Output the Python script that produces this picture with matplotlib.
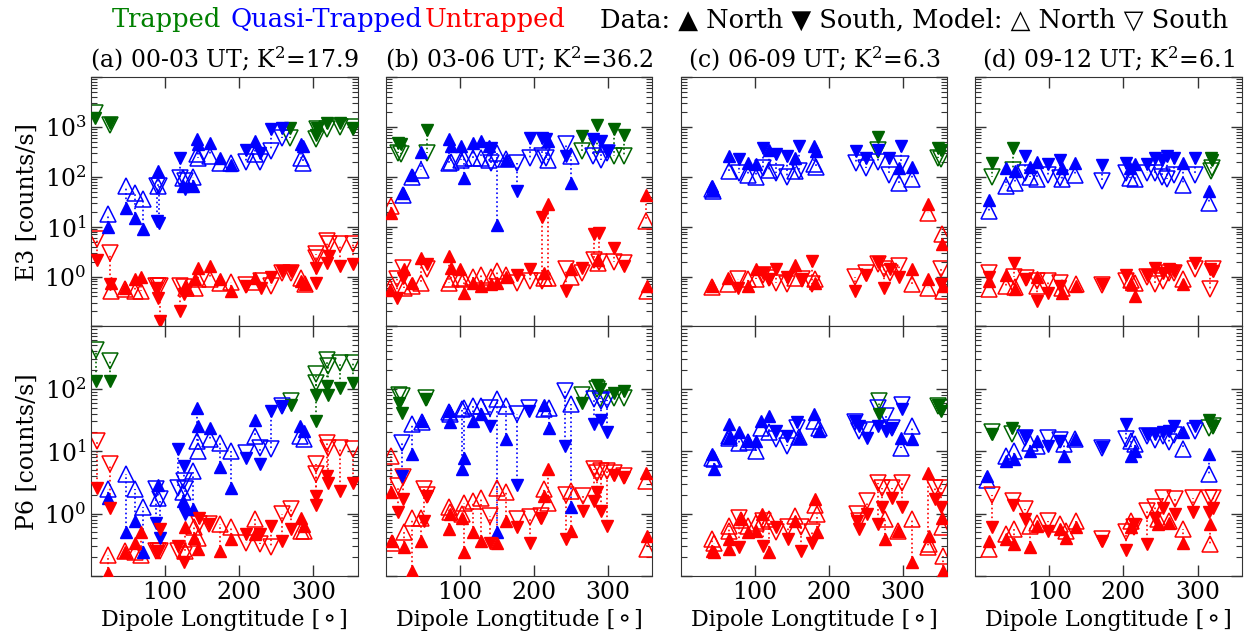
import matplotlib
matplotlib.use("Agg")
import matplotlib.pyplot as plt
from matplotlib.ticker import FixedLocator, LogLocator, NullLocator

# Each row: (dipole longitude, class+hemisphere code, measured rate, model rate)
# class: T = trapped, Q = quasi-trapped, U = untrapped; hemisphere: N / S
A_E3 = [
    (6, "TS", 1500, 1900), (26, "TS", 1200, 1100), (269, "TS", 950, 600),
    (303, "TS", 700, 560), (305, "TS", 950, 900), (318, "TS", 1200, 890),
    (336, "TS", 1200, 1000), (354, "TS", 950, 1000),
    (23, "QN", 10, 18), (47, "QN", 24, 65), (60, "QN", 15, 48), (70, "QN", 9, 36),
    (89, "QS", 13, 65), (91, "QN", 130, 65), (92, "QS", 12, 65), (120, "QS", 240, 95),
    (124, "QN", 65, 95), (127, "QS", 56, 82), (138, "QN", 65, 100), (143, "QN", 560, 280),
    (145, "QN", 450, 240), (160, "QN", 480, 260), (174, "QN", 240, 190), (189, "QN", 170, 185),
    (209, "QS", 350, 200), (221, "QN", 520, 280), (228, "QS", 300, 200), (243, "QS", 890, 330),
    (258, "QS", 950, 600), (283, "QN", 450, 240), (286, "QN", 410, 190),
    (8, "US", 2.2, 5.6), (25, "US", 0.7, 3.0), (27, "UN", 0.75, 0.52), (46, "UN", 0.6, 0.56),
    (59, "UN", 0.88, 0.52), (68, "UN", 1.0, 0.52), (88, "US", 0.6, 0.65), (90, "US", 0.38, 0.65),
    (93, "US", 0.13, 0.65), (120, "US", 0.2, 0.65), (125, "US", 0.44, 0.63), (128, "UN", 0.58, 0.6),
    (141, "UN", 0.88, 0.6), (145, "UN", 1.5, 0.88), (160, "UN", 1.6, 0.88), (174, "UN", 0.88, 0.76),
    (189, "UN", 0.52, 0.78), (209, "US", 0.65, 0.67), (221, "UN", 0.95, 0.78), (230, "US", 0.6, 0.82),
    (243, "US", 1.0, 0.65), (258, "US", 1.3, 1.2), (270, "US", 1.3, 1.2), (283, "UN", 0.82, 0.95),
    (289, "UN", 0.7, 0.7), (303, "US", 1.5, 2.8), (304, "US", 0.76, 2.4), (319, "US", 1.9, 5.2),
    (321, "US", 2.6, 4.4), (336, "US", 1.6, 4.6), (354, "US", 1.8, 4.4),
]
A_P6 = [
    (7, "TS", 133, 425), (26, "TS", 133, 280), (270, "TS", 56, 63), (303, "TS", 81, 170),
    (304, "TS", 30, 125), (318, "TS", 110, 295), (320, "TS", 81, 230), (336, "TS", 104, 260),
    (354, "TS", 125, 260),
    (23, "QN", 1.8, 2.45), (47, "QN", 0.5, 4.3), (60, "QN", 0.76, 2.45), (70, "QN", 0.24, 1.3),
    (88, "QS", 0.72, 2.45), (90, "QN", 2.9, 1.8), (93, "QS", 0.41, 1.7), (118, "QS", 10.7, 2.6),
    (125, "QS", 5.8, 3.3), (124, "QN", 1.6, 2.2), (127, "QS", 1.0, 2.45), (138, "QN", 1.17, 4.8),
    (143, "QN", 50, 14.5), (145, "QN", 25, 10), (160, "QN", 24, 15.5), (174, "QN", 5.5, 13.7),
    (189, "QN", 2.6, 10), (209, "QS", 7.9, 9.5), (221, "QN", 32, 17.5), (228, "QS", 6.2, 11.4),
    (243, "QS", 44, 10.7), (258, "QS", 53, 53), (282, "QN", 25, 17.5), (288, "QN", 21, 15.5),
    (8, "US", 2.6, 14.5), (26, "US", 1.25, 6.2), (23, "UN", 0.11, 0.22), (46, "UN", 0.24, 0.25),
    (59, "UN", 0.34, 0.24), (68, "UN", 0.5, 0.22), (88, "US", 0.25, 0.25), (91, "US", 0.25, 0.25),
    (93, "US", 0.56, 0.25), (118, "US", 0.3, 0.25), (125, "US", 0.17, 0.22), (127, "UN", 0.6, 0.25),
    (139, "UN", 0.41, 0.6), (145, "UN", 0.27, 0.41), (146, "US", 0.86, 0.67), (159, "US", 0.67, 0.67),
    (174, "UN", 0.25, 0.67), (189, "UN", 0.39, 0.6), (209, "US", 0.47, 0.34), (221, "UN", 0.47, 0.81),
    (228, "US", 0.47, 0.32), (243, "US", 0.63, 0.29), (258, "US", 0.37, 1.0), (270, "US", 0.56, 1.17),
    (283, "UN", 0.86, 0.53), (288, "UN", 0.63, 0.53), (303, "US", 1.9, 6.2), (304, "US", 1.4, 4.3),
    (318, "US", 4.0, 13.7), (320, "US", 3.1, 11.4), (336, "US", 2.3, 11.4), (354, "US", 3.1, 10.7),
]

B_E3 = [
    (16, "TS", 480, 300), (20, "TS", 450, 280), (55, "TS", 850, 300), (265, "TS", 650, 330),
    (285, "TS", 1100, 410), (308, "TS", 910, 260), (322, "TS", 700, 260),
    (23, "QN", 48, 44), (36, "QN", 110, 100), (47, "QN", 310, 140), (86, "QN", 560, 190),
    (88, "QN", 410, 200), (101, "QN", 410, 220), (105, "QN", 95, 240), (118, "QN", 480, 240),
    (129, "QN", 520, 240), (139, "QN", 410, 220), (142, "QS", 380, 190), (150, "QN", 11, 300),
    (162, "QN", 220, 230), (177, "QS", 52, 190), (195, "QS", 600, 240), (211, "QS", 600, 260),
    (216, "QS", 580, 240), (219, "QN", 520, 220), (243, "QS", 260, 450), (250, "QN", 76, 260),
    (280, "QS", 560, 260), (290, "QS", 520, 220), (299, "QS", 330, 300),
    (7, "UN", 19, 26), (6, "UN", 0.55, 0.6), (15, "US", 0.38, 0.9), (23, "US", 0.95, 1.5),
    (24, "UN", 1.4, 0.6), (36, "UN", 0.76, 0.65), (48, "UN", 2.4, 0.76), (55, "US", 1.8, 1.4),
    (86, "UN", 2.6, 0.76), (88, "UN", 1.5, 0.88), (100, "UN", 1.4, 0.95), (105, "UN", 0.48, 0.88),
    (118, "UN", 0.76, 1.0), (129, "UN", 0.65, 1.1), (142, "UN", 0.7, 1.0), (150, "UN", 0.76, 1.3),
    (162, "UN", 1.0, 1.1), (177, "US", 1.1, 0.76), (195, "US", 1.4, 0.82), (211, "US", 16, 0.82),
    (213, "UN", 1.2, 0.95), (219, "UN", 28, 0.95), (243, "US", 0.52, 1.4), (250, "UN", 1.4, 1.0),
    (265, "US", 1.5, 1.2), (281, "US", 7.0, 2.2), (288, "US", 7.6, 2.0), (286, "UN", 2.2, 1.9),
    (308, "US", 3.8, 2.0), (322, "US", 1.6, 1.9), (351, "UN", 44, 13), (352, "UN", 0.65, 0.52),
]
B_P6 = [
    (18, "TS", 60, 81), (22, "TS", 41, 78), (54, "TS", 68, 72), (265, "TS", 60, 81),
    (285, "TS", 117, 98), (289, "TS", 98, 68), (308, "TS", 87, 72), (322, "TS", 92, 72),
    (22, "QS", 4.0, 13.7), (36, "QN", 8.9, 27), (49, "QN", 30, 29), (85, "QN", 44, 42),
    (87, "QN", 29, 39), (105, "QN", 7.9, 50), (103, "QN", 5.1, 47), (118, "QN", 30, 53),
    (129, "QN", 39, 53), (141, "QS", 25, 50), (150, "QN", 0.5, 68), (162, "QN", 15.5, 53),
    (177, "QS", 2.9, 39), (193, "QS", 44, 50), (214, "QN", 56, 47), (220, "QN", 24, 50),
    (242, "QS", 12, 92), (250, "QN", 1.3, 58), (281, "QS", 27, 68), (291, "QS", 32, 63),
    (299, "QS", 20, 66),
    (7, "UN", 2.2, 8.4), (8, "UN", 0.36, 0.34), (17, "US", 1.05, 2.8), (23, "US", 1.7, 3.8),
    (24, "UN", 0.29, 0.5), (36, "UN", 0.12, 0.86), (48, "UN", 0.37, 0.86), (52, "US", 0.76, 2.45),
    (56, "US", 1.9, 2.0), (85, "UN", 0.56, 1.3), (87, "UN", 1.0, 1.05), (105, "UN", 0.24, 1.5),
    (103, "UN", 0.86, 1.0), (118, "UN", 0.5, 1.6), (129, "UN", 0.37, 1.8), (141, "US", 0.34, 0.92),
    (150, "UN", 0.34, 2.6), (162, "UN", 0.76, 2.2), (177, "US", 0.6, 0.81), (195, "US", 0.34, 0.88),
    (209, "US", 0.86, 0.9), (214, "UN", 1.9, 2.45), (219, "UN", 5.1, 1.5), (243, "US", 0.39, 2.0),
    (250, "UN", 0.53, 2.3), (266, "US", 1.1, 1.9), (281, "US", 1.6, 5.1), (285, "US", 2.2, 4.5),
    (290, "US", 1.1, 4.8), (299, "US", 0.63, 4.8), (308, "US", 4.2, 4.5), (322, "US", 3.8, 4.0),
    (351, "UN", 4.5, 3.3), (352, "UN", 0.44, 0.27),
]

C_E3 = [
    (267, "TS", 630, 350), (348, "TS", 380, 240), (352, "TS", 350, 230),
    (42, "QN", 65, 56), (44, "QN", 55, 52), (65, "QN", 260, 130), (79, "QS", 230, 120),
    (91, "QN", 190, 110), (102, "QN", 180, 100), (111, "QS", 380, 150), (119, "QN", 350, 140),
    (129, "QS", 280, 120), (144, "QS", 260, 100), (155, "QN", 240, 130), (160, "QS", 410, 130),
    (180, "QN", 410, 180), (183, "QN", 330, 160), (237, "QS", 330, 190), (250, "QS", 240, 150),
    (267, "QS", 350, 200), (281, "QS", 240, 110), (298, "QS", 410, 180), (295, "QN", 150, 76),
    (313, "QN", 160, 89),
    (42, "UN", 0.65, 0.63), (64, "UN", 0.95, 0.7), (78, "US", 0.6, 0.91), (91, "UN", 0.65, 0.88),
    (102, "UN", 1.4, 0.9), (111, "US", 1.2, 1.1), (119, "US", 0.88, 0.95), (129, "US", 1.4, 0.76),
    (144, "US", 1.0, 0.7), (155, "UN", 1.7, 0.95), (164, "US", 0.88, 0.88), (177, "US", 2.1, 0.7),
    (181, "UN", 0.76, 0.88), (236, "US", 0.52, 1.0), (250, "US", 1.1, 1.2), (266, "US", 2.0, 1.8),
    (274, "US", 0.6, 1.4), (283, "US", 1.4, 1.2), (295, "US", 1.0, 1.6), (313, "UN", 1.4, 0.7),
    (334, "UN", 0.88, 0.6), (334, "UN", 28, 19), (353, "UN", 4.4, 7.0), (351, "US", 0.7, 1.4),
    (354, "UN", 0.65, 0.52),
]
C_P6 = [
    (268, "TS", 39, 63), (347, "TS", 56, 53), (351, "TS", 44, 50),
    (42, "QN", 8.9, 7.9), (45, "QN", 5.1, 7.5), (65, "QN", 27, 17.5), (66, "QN", 16.5, 16.5),
    (79, "QN", 20, 13.7), (91, "QN", 14.5, 14), (102, "QN", 14.5, 10), (109, "QN", 30, 24),
    (119, "QN", 37, 20), (129, "QS", 21, 15.5), (144, "QS", 17.5, 12), (157, "QS", 29, 24),
    (160, "QN", 16.5, 17), (180, "QN", 39, 30), (187, "QN", 21, 24), (236, "QS", 30, 29),
    (241, "QS", 25, 21), (252, "QS", 16.5, 22), (266, "QS", 25, 50), (277, "QS", 21, 37),
    (285, "QS", 24, 24), (299, "QS", 47, 56), (297, "QN", 16.5, 11.4), (313, "QN", 15.5, 25),
    (42, "UN", 0.25, 0.39), (45, "UN", 0.24, 0.34), (65, "UN", 0.27, 0.63), (66, "UN", 0.39, 0.53),
    (79, "US", 0.29, 0.86), (81, "UN", 0.81, 0.78), (91, "UN", 0.5, 0.63), (102, "UN", 0.53, 0.72),
    (111, "US", 0.3, 0.76), (110, "UN", 1.0, 0.76), (119, "UN", 0.24, 0.81), (129, "US", 0.6, 0.5),
    (145, "US", 0.39, 0.6), (155, "UN", 0.76, 0.92), (162, "US", 0.25, 0.6), (178, "US", 0.34, 0.5),
    (181, "UN", 1.7, 1.4), (184, "UN", 0.5, 1.0), (238, "US", 0.76, 1.0), (241, "US", 0.56, 0.76),
    (252, "US", 1.0, 1.6), (266, "US", 0.67, 3.1), (272, "US", 1.3, 2.6), (276, "UN", 0.39, 0.81),
    (285, "US", 1.8, 2.6), (294, "UN", 0.53, 0.53), (299, "US", 1.3, 3.1), (313, "UN", 0.17, 0.81),
    (334, "UN", 4.5, 0.29), (336, "UN", 0.44, 0.33), (344, "US", 1.7, 2.6), (351, "US", 1.3, 2.6),
    (353, "UN", 0.86, 0.6), (354, "UN", 0.12, 0.21),
]

D_E3 = [
    (23, "TS", 190, 100), (51, "TS", 380, 140), (318, "TS", 240, 130), (320, "TS", 220, 150),
    (18, "QN", 35, 21), (41, "QN", 150, 65), (53, "QN", 130, 76), (67, "QS", 260, 120),
    (74, "QN", 160, 100), (84, "QN", 200, 89), (98, "QS", 180, 110), (114, "QS", 220, 95),
    (117, "QN", 150, 89), (135, "QN", 190, 110), (171, "QS", 170, 82), (203, "QS", 190, 120),
    (209, "QN", 150, 95), (216, "QN", 180, 89), (232, "QS", 180, 120), (243, "QS", 240, 120),
    (252, "QS", 220, 100), (259, "QS", 260, 89), (268, "QS", 240, 110), (280, "QN", 190, 70),
    (296, "QS", 240, 110), (316, "QN", 52, 30),
    (19, "US", 1.0, 1.2), (18, "UN", 0.8, 0.56), (41, "UN", 1.1, 0.65), (52, "US", 1.9, 1.0),
    (53, "UN", 0.56, 0.62), (68, "US", 0.88, 0.95), (84, "UN", 1.0, 0.65), (83, "US", 0.33, 0.8),
    (98, "US", 0.48, 0.82), (115, "US", 0.65, 0.76), (117, "UN", 0.48, 0.6), (136, "UN", 0.65, 0.7),
    (171, "US", 0.7, 0.68), (203, "US", 1.1, 0.82), (210, "UN", 0.7, 0.85), (216, "UN", 0.41, 0.76),
    (232, "US", 1.1, 1.0), (243, "US", 1.5, 0.7), (253, "US", 1.2, 0.8), (261, "US", 1.4, 1.2),
    (268, "US", 1.3, 1.2), (280, "UN", 0.7, 0.9), (296, "US", 1.9, 1.4), (317, "US", 1.4, 0.56),
    (321, "US", 1.3, 1.4),
]
D_P6 = [
    (23, "TS", 18.6, 20.5), (50, "TS", 24, 19), (316, "TS", 32, 24), (321, "TS", 25, 25),
    (16, "QN", 4.0, 3.5), (41, "QN", 7.0, 8.4), (52, "QN", 7.4, 10), (67, "QS", 17.5, 16.5),
    (74, "QN", 10, 13.7), (84, "QN", 14.5, 12), (98, "QS", 12, 16.5), (114, "QS", 14.5, 15),
    (120, "QN", 8.4, 13), (134, "QN", 15.5, 15.5), (171, "QS", 11.7, 11.4), (203, "QS", 27, 15.5),
    (210, "QN", 8.4, 14.5), (216, "QN", 10, 12.9), (232, "QS", 18.6, 17.5), (243, "QS", 18.6, 15),
    (253, "QS", 20, 17.5), (261, "QS", 21, 14), (268, "QS", 25, 18), (280, "QN", 20, 10.7),
    (296, "QS", 25, 21), (316, "QN", 8.9, 4.3),
    (23, "US", 0.6, 2.0), (18, "UN", 0.37, 0.27), (41, "UN", 0.39, 0.48), (52, "UN", 0.32, 0.56),
    (51, "US", 1.4, 1.6), (67, "US", 0.81, 1.17), (74, "UN", 0.29, 0.63), (84, "UN", 0.63, 0.7),
    (98, "US", 0.53, 0.76), (115, "UN", 0.56, 0.67), (122, "UN", 0.41, 0.53), (136, "UN", 0.6, 0.76),
    (171, "US", 0.37, 0.39), (204, "US", 0.26, 0.5), (210, "UN", 0.6, 0.76), (214, "US", 0.67, 0.6),
    (232, "US", 0.32, 1.1), (243, "US", 0.86, 1.3), (246, "UN", 0.67, 0.81), (253, "US", 1.25, 1.8),
    (261, "UN", 0.72, 0.75), (269, "US", 1.0, 1.7), (280, "UN", 0.34, 0.56), (294, "US", 1.05, 1.8),
    (316, "US", 1.05, 1.8), (321, "US", 1.25, 1.8), (317, "UN", 0.67, 0.32),
]

PANEL_TITLES = [
    "(a) 00-03 UT; K$^2$=17.9",
    "(b) 03-06 UT; K$^2$=36.2",
    "(c) 06-09 UT; K$^2$=6.3",
    "(d) 09-12 UT; K$^2$=6.1",
]
E3_PANELS = [A_E3, B_E3, C_E3, D_E3]
P6_PANELS = [A_P6, B_P6, C_P6, D_P6]

ROW_LABELS = ["E3 [counts/s]", "P6 [counts/s]"]
E3_TICKS = [0.1, 1, 10, 100, 1000, 1e4]
E3_TICK_LABELS = ["", "$10^0$", "$10^1$", "$10^2$", "$10^3$", ""]
P6_TICKS = [0.1, 1, 10, 100, 1000]
P6_TICK_LABELS = ["", "$10^0$", "$10^1$", "$10^2$", ""]
LON_TICKS = [100, 200, 300]
LON_LABEL = "Dipole Longtitude [\u26AC]"

CLASS_COLOR = {"T": "#006400", "Q": "#0000ff", "U": "#ff0000"}
HEMI_MARKER = {"N": "^", "S": "v"}


def draw_panel(ax, rows):
    for lon, code, obs, mod in rows:
        color = CLASS_COLOR[code[0]]
        marker = HEMI_MARKER[code[1]]
        ax.plot([lon, lon], [obs, mod], ls=":", color=color, lw=1.2, zorder=1)
        ax.plot(lon, obs, marker, color=color, mec=color, ms=8, zorder=3)
        ax.plot(lon, mod, marker, mfc="none", mec=color, ms=11.5, mew=1.1, zorder=2)


def main():
    plt.rcParams["font.family"] = ["DejaVu Serif", "DejaVu Sans"]
    plt.rcParams["mathtext.fontset"] = "dejavuserif"

    fig, axes = plt.subplots(2, 4, figsize=(12.5, 6.39), dpi=100)
    fig.subplots_adjust(left=0.0728, right=0.9936, top=0.8795, bottom=0.0986,
                        wspace=0.105, hspace=0.0)

    for row, (panels, ticks, labels, ylim) in enumerate([
        (E3_PANELS, E3_TICKS, E3_TICK_LABELS, (0.1, 1e4)),
        (P6_PANELS, P6_TICKS, P6_TICK_LABELS, (0.1, 1e3)),
    ]):
        for col, rows in enumerate(panels):
            ax = axes[row, col]
            draw_panel(ax, rows)
            ax.set_yscale("log")
            ax.set_ylim(*ylim)
            ax.set_xlim(0, 360)
            ax.set_yticks(ticks)
            ax.yaxis.set_minor_locator(LogLocator(base=10, subs=range(2, 10)))
            ax.xaxis.set_major_locator(FixedLocator(LON_TICKS))
            ax.xaxis.set_minor_locator(NullLocator())
            ax.tick_params(which="both", direction="in", top=True, right=True,
                           labelsize=17, color="#333333")
            ax.tick_params(which="major", length=8, width=1)
            ax.tick_params(which="minor", length=4, width=0.8)
            for spine in ax.spines.values():
                spine.set_color("#333333")
            if col == 0:
                ax.set_yticklabels(labels)
                ax.set_ylabel(ROW_LABELS[row], fontsize=17, labelpad=4)
            else:
                ax.set_yticklabels([])
            if row == 0:
                ax.set_xticklabels([])
                ax.set_title(PANEL_TITLES[col], fontsize=17, pad=6)
            else:
                ax.set_xticklabels([str(t) for t in LON_TICKS])
                ax.set_xlabel(LON_LABEL, fontsize=16, labelpad=4)

    # header key: particle classes in colour, marker meanings in black
    ytop = 1 - 20 / 639
    hsize = 18.5
    fig.text(221 / 1250, ytop, "Trapped", color="green", fontsize=hsize,
             ha="right", va="center")
    fig.text(230 / 1250, ytop, "Quasi-Trapped", color="blue", fontsize=hsize, va="center")
    fig.text(425 / 1250, ytop, "Untrapped", color="red", fontsize=hsize, va="center")
    fig.text(1228 / 1250, ytop,
             "Data: \u25B2 North \u25BC South, Model: \u25B3 North \u25BD South",
             color="black", fontsize=hsize, ha="right", va="center")

    fig.savefig("out.png", dpi=100)


if __name__ == "__main__":
    main()
